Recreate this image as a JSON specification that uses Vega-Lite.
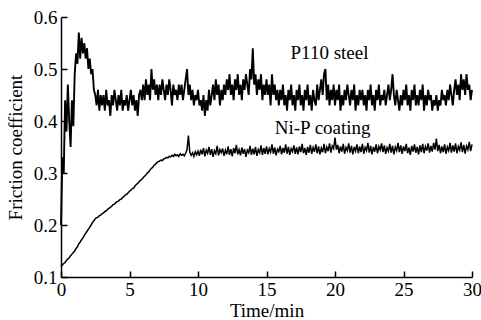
{
"$schema": "https://vega.github.io/schema/vega-lite/v6.json",
"width": 411, "height": 260,
"autosize": "none",
"padding": {"left": 61, "top": 17, "right": 9, "bottom": 43},
"background": "white",
"config": {"view": {"stroke": null}, "font": "Liberation Serif",
 "axis": {"grid": false, "domainColor": "black", "domainWidth": 1.5, "tickColor": "black", "tickWidth": 1.5, "tickSize": -6, "labelFont": "Liberation Serif", "labelFontSize": 19, "labelColor": "black", "titleFont": "Liberation Serif", "titleFontSize": 19, "titleFontWeight": "normal", "titleColor": "black"}},
"datasets": {
"lab": [{"t": 19.6, "f": 0.531, "label": "P110 steel"}, {"t": 19.1, "f": 0.387, "label": "Ni-P coating"}],
"s": [
{"t":0,"a":0.20,"b":0.120},{"t":0.1,"a":0.33,"b":0.123},{"t":0.2,"a":0.30,"b":0.126},{"t":0.3,"a":0.44,"b":0.128},{"t":0.4,"a":0.38,"b":0.132},{"t":0.5,"a":0.47,"b":0.135},{"t":0.6,"a":0.40,"b":0.137},{"t":0.7,"a":0.35,"b":0.141},{"t":0.8,"a":0.44,"b":0.144},{"t":0.9,"a":0.39,"b":0.147},
{"t":1.0,"a":0.49,"b":0.150},{"t":1.1,"a":0.53,"b":0.155},{"t":1.2,"a":0.51,"b":0.158},{"t":1.3,"a":0.57,"b":0.164},{"t":1.4,"a":0.52,"b":0.167},{"t":1.5,"a":0.56,"b":0.172},{"t":1.6,"a":0.53,"b":0.175},{"t":1.7,"a":0.55,"b":0.180},{"t":1.8,"a":0.52,"b":0.184},{"t":1.9,"a":0.54,"b":0.188},
{"t":2.0,"a":0.50,"b":0.192},{"t":2.1,"a":0.52,"b":0.196},{"t":2.2,"a":0.49,"b":0.200},{"t":2.3,"a":0.50,"b":0.205},{"t":2.4,"a":0.46,"b":0.208},{"t":2.5,"a":0.45,"b":0.212},{"t":2.6,"a":0.43,"b":0.214},{"t":2.7,"a":0.46,"b":0.215},{"t":2.8,"a":0.42,"b":0.218},{"t":2.9,"a":0.45,"b":0.219},
{"t":3.0,"a":0.43,"b":0.222},{"t":3.1,"a":0.45,"b":0.223},{"t":3.2,"a":0.42,"b":0.226},{"t":3.3,"a":0.46,"b":0.227},{"t":3.4,"a":0.43,"b":0.230},{"t":3.5,"a":0.44,"b":0.232},{"t":3.6,"a":0.41,"b":0.234},{"t":3.7,"a":0.45,"b":0.236},{"t":3.8,"a":0.43,"b":0.239},{"t":3.9,"a":0.46,"b":0.240},
{"t":4.0,"a":0.44,"b":0.243},{"t":4.1,"a":0.42,"b":0.245},{"t":4.2,"a":0.45,"b":0.246},{"t":4.3,"a":0.43,"b":0.249},{"t":4.4,"a":0.46,"b":0.250},{"t":4.5,"a":0.42,"b":0.253},{"t":4.6,"a":0.44,"b":0.255},{"t":4.7,"a":0.43,"b":0.258},{"t":4.8,"a":0.45,"b":0.259},{"t":4.9,"a":0.42,"b":0.262},
{"t":5.0,"a":0.44,"b":0.265},{"t":5.1,"a":0.46,"b":0.267},{"t":5.2,"a":0.43,"b":0.270},{"t":5.3,"a":0.45,"b":0.271},{"t":5.4,"a":0.42,"b":0.275},{"t":5.5,"a":0.44,"b":0.278},{"t":5.6,"a":0.41,"b":0.280},{"t":5.7,"a":0.45,"b":0.283},{"t":5.8,"a":0.46,"b":0.286},{"t":5.9,"a":0.44,"b":0.288},
{"t":6.0,"a":0.47,"b":0.291},{"t":6.1,"a":0.44,"b":0.294},{"t":6.2,"a":0.48,"b":0.296},{"t":6.3,"a":0.45,"b":0.300},{"t":6.4,"a":0.47,"b":0.302},{"t":6.5,"a":0.44,"b":0.306},{"t":6.6,"a":0.50,"b":0.309},{"t":6.7,"a":0.46,"b":0.311},{"t":6.8,"a":0.48,"b":0.315},{"t":6.9,"a":0.45,"b":0.317},
{"t":7.0,"a":0.47,"b":0.320},{"t":7.1,"a":0.44,"b":0.322},{"t":7.2,"a":0.47,"b":0.323},{"t":7.3,"a":0.45,"b":0.325},{"t":7.4,"a":0.48,"b":0.324},{"t":7.5,"a":0.46,"b":0.327},{"t":7.6,"a":0.44,"b":0.328},{"t":7.7,"a":0.47,"b":0.330},{"t":7.8,"a":0.45,"b":0.329},{"t":7.9,"a":0.48,"b":0.332},
{"t":8.0,"a":0.46,"b":0.331},{"t":8.1,"a":0.43,"b":0.334},{"t":8.2,"a":0.47,"b":0.332},{"t":8.3,"a":0.45,"b":0.336},{"t":8.4,"a":0.46,"b":0.333},{"t":8.5,"a":0.44,"b":0.335},{"t":8.6,"a":0.47,"b":0.332},{"t":8.7,"a":0.45,"b":0.337},{"t":8.8,"a":0.47,"b":0.334},{"t":8.9,"a":0.44,"b":0.336},
{"t":9.0,"a":0.46,"b":0.333},{"t":9.1,"a":0.48,"b":0.338},{"t":9.2,"a":0.50,"b":0.345},{"t":9.3,"a":0.45,"b":0.372},{"t":9.4,"a":0.47,"b":0.340},{"t":9.5,"a":0.44,"b":0.334},{"t":9.6,"a":0.46,"b":0.339},{"t":9.7,"a":0.43,"b":0.332},{"t":9.8,"a":0.45,"b":0.341},{"t":9.9,"a":0.44,"b":0.335},
{"t":10.0,"a":0.46,"b":0.342},{"t":10.1,"a":0.43,"b":0.333},{"t":10.2,"a":0.44,"b":0.345},{"t":10.3,"a":0.42,"b":0.336},{"t":10.4,"a":0.45,"b":0.348},{"t":10.5,"a":0.41,"b":0.332},{"t":10.6,"a":0.44,"b":0.344},{"t":10.7,"a":0.42,"b":0.338},{"t":10.8,"a":0.46,"b":0.350},{"t":10.9,"a":0.43,"b":0.335},
{"t":11.0,"a":0.45,"b":0.346},{"t":11.1,"a":0.47,"b":0.331},{"t":11.2,"a":0.44,"b":0.343},{"t":11.3,"a":0.48,"b":0.337},{"t":11.4,"a":0.45,"b":0.352},{"t":11.5,"a":0.47,"b":0.334},{"t":11.6,"a":0.43,"b":0.345},{"t":11.7,"a":0.46,"b":0.339},{"t":11.8,"a":0.44,"b":0.347},{"t":11.9,"a":0.47,"b":0.333},
{"t":12.0,"a":0.45,"b":0.344},{"t":12.1,"a":0.48,"b":0.336},{"t":12.2,"a":0.46,"b":0.351},{"t":12.3,"a":0.49,"b":0.335},{"t":12.4,"a":0.45,"b":0.346},{"t":12.5,"a":0.47,"b":0.332},{"t":12.6,"a":0.44,"b":0.348},{"t":12.7,"a":0.48,"b":0.338},{"t":12.8,"a":0.46,"b":0.354},{"t":12.9,"a":0.49,"b":0.336},
{"t":13.0,"a":0.45,"b":0.345},{"t":13.1,"a":0.47,"b":0.334},{"t":13.2,"a":0.44,"b":0.349},{"t":13.3,"a":0.48,"b":0.337},{"t":13.4,"a":0.46,"b":0.346},{"t":13.5,"a":0.49,"b":0.331},{"t":13.6,"a":0.47,"b":0.344},{"t":13.7,"a":0.45,"b":0.339},{"t":13.8,"a":0.50,"b":0.352},{"t":13.9,"a":0.48,"b":0.335},
{"t":14.0,"a":0.54,"b":0.347},{"t":14.1,"a":0.47,"b":0.336},{"t":14.2,"a":0.49,"b":0.350},{"t":14.3,"a":0.45,"b":0.333},{"t":14.4,"a":0.48,"b":0.345},{"t":14.5,"a":0.46,"b":0.339},{"t":14.6,"a":0.49,"b":0.353},{"t":14.7,"a":0.44,"b":0.335},{"t":14.8,"a":0.47,"b":0.348},{"t":14.9,"a":0.45,"b":0.337},
{"t":15.0,"a":0.48,"b":0.351},{"t":15.1,"a":0.45,"b":0.336},{"t":15.2,"a":0.47,"b":0.347},{"t":15.3,"a":0.43,"b":0.340},{"t":15.4,"a":0.49,"b":0.355},{"t":15.5,"a":0.45,"b":0.337},{"t":15.6,"a":0.47,"b":0.349},{"t":15.7,"a":0.44,"b":0.334},{"t":15.8,"a":0.46,"b":0.346},{"t":15.9,"a":0.43,"b":0.341},
{"t":16.0,"a":0.46,"b":0.352},{"t":16.1,"a":0.44,"b":0.336},{"t":16.2,"a":0.47,"b":0.348},{"t":16.3,"a":0.43,"b":0.339},{"t":16.4,"a":0.45,"b":0.355},{"t":16.5,"a":0.42,"b":0.337},{"t":16.6,"a":0.46,"b":0.350},{"t":16.7,"a":0.44,"b":0.335},{"t":16.8,"a":0.47,"b":0.347},{"t":16.9,"a":0.43,"b":0.341},
{"t":17.0,"a":0.45,"b":0.353},{"t":17.1,"a":0.42,"b":0.337},{"t":17.2,"a":0.46,"b":0.349},{"t":17.3,"a":0.44,"b":0.336},{"t":17.4,"a":0.47,"b":0.351},{"t":17.5,"a":0.43,"b":0.340},{"t":17.6,"a":0.45,"b":0.356},{"t":17.7,"a":0.42,"b":0.338},{"t":17.8,"a":0.46,"b":0.348},{"t":17.9,"a":0.44,"b":0.335},
{"t":18.0,"a":0.47,"b":0.350},{"t":18.1,"a":0.43,"b":0.339},{"t":18.2,"a":0.45,"b":0.354},{"t":18.3,"a":0.42,"b":0.337},{"t":18.4,"a":0.46,"b":0.349},{"t":18.5,"a":0.44,"b":0.341},{"t":18.6,"a":0.43,"b":0.355},{"t":18.7,"a":0.47,"b":0.338},{"t":18.8,"a":0.44,"b":0.351},{"t":18.9,"a":0.46,"b":0.336},
{"t":19.0,"a":0.48,"b":0.348},{"t":19.1,"a":0.45,"b":0.340},{"t":19.2,"a":0.49,"b":0.356},{"t":19.3,"a":0.50,"b":0.338},{"t":19.4,"a":0.44,"b":0.350},{"t":19.5,"a":0.47,"b":0.342},{"t":19.6,"a":0.43,"b":0.357},{"t":19.7,"a":0.46,"b":0.339},{"t":19.8,"a":0.44,"b":0.352},{"t":19.9,"a":0.47,"b":0.347},
{"t":20.0,"a":0.43,"b":0.368},{"t":20.1,"a":0.46,"b":0.345},{"t":20.2,"a":0.44,"b":0.354},{"t":20.3,"a":0.47,"b":0.338},{"t":20.4,"a":0.42,"b":0.351},{"t":20.5,"a":0.45,"b":0.341},{"t":20.6,"a":0.43,"b":0.356},{"t":20.7,"a":0.46,"b":0.337},{"t":20.8,"a":0.44,"b":0.349},{"t":20.9,"a":0.47,"b":0.343},
{"t":21.0,"a":0.45,"b":0.357},{"t":21.1,"a":0.43,"b":0.339},{"t":21.2,"a":0.46,"b":0.352},{"t":21.3,"a":0.44,"b":0.336},{"t":21.4,"a":0.47,"b":0.350},{"t":21.5,"a":0.42,"b":0.342},{"t":21.6,"a":0.45,"b":0.355},{"t":21.7,"a":0.43,"b":0.338},{"t":21.8,"a":0.46,"b":0.351},{"t":21.9,"a":0.44,"b":0.340},
{"t":22.0,"a":0.46,"b":0.356},{"t":22.1,"a":0.43,"b":0.337},{"t":22.2,"a":0.45,"b":0.349},{"t":22.3,"a":0.42,"b":0.343},{"t":22.4,"a":0.46,"b":0.358},{"t":22.5,"a":0.44,"b":0.339},{"t":22.6,"a":0.47,"b":0.352},{"t":22.7,"a":0.43,"b":0.336},{"t":22.8,"a":0.45,"b":0.350},{"t":22.9,"a":0.42,"b":0.341},
{"t":23.0,"a":0.46,"b":0.355},{"t":23.1,"a":0.44,"b":0.338},{"t":23.2,"a":0.47,"b":0.351},{"t":23.3,"a":0.43,"b":0.344},{"t":23.4,"a":0.45,"b":0.357},{"t":23.5,"a":0.44,"b":0.340},{"t":23.6,"a":0.46,"b":0.353},{"t":23.7,"a":0.43,"b":0.337},{"t":23.8,"a":0.45,"b":0.349},{"t":23.9,"a":0.47,"b":0.342},
{"t":24.0,"a":0.44,"b":0.356},{"t":24.1,"a":0.46,"b":0.339},{"t":24.2,"a":0.49,"b":0.352},{"t":24.3,"a":0.45,"b":0.336},{"t":24.4,"a":0.43,"b":0.350},{"t":24.5,"a":0.46,"b":0.343},{"t":24.6,"a":0.44,"b":0.358},{"t":24.7,"a":0.42,"b":0.340},{"t":24.8,"a":0.45,"b":0.353},{"t":24.9,"a":0.43,"b":0.337},
{"t":25.0,"a":0.46,"b":0.351},{"t":25.1,"a":0.44,"b":0.342},{"t":25.2,"a":0.47,"b":0.356},{"t":25.3,"a":0.43,"b":0.338},{"t":25.4,"a":0.45,"b":0.349},{"t":25.5,"a":0.42,"b":0.335},{"t":25.6,"a":0.46,"b":0.352},{"t":25.7,"a":0.44,"b":0.341},{"t":25.8,"a":0.47,"b":0.355},{"t":25.9,"a":0.43,"b":0.339},
{"t":26.0,"a":0.45,"b":0.350},{"t":26.1,"a":0.43,"b":0.336},{"t":26.2,"a":0.46,"b":0.353},{"t":26.3,"a":0.44,"b":0.340},{"t":26.4,"a":0.47,"b":0.356},{"t":26.5,"a":0.42,"b":0.338},{"t":26.6,"a":0.45,"b":0.351},{"t":26.7,"a":0.43,"b":0.343},{"t":26.8,"a":0.46,"b":0.357},{"t":26.9,"a":0.44,"b":0.339},
{"t":27.0,"a":0.45,"b":0.352},{"t":27.1,"a":0.42,"b":0.341},{"t":27.2,"a":0.44,"b":0.358},{"t":27.3,"a":0.43,"b":0.345},{"t":27.4,"a":0.45,"b":0.366},{"t":27.5,"a":0.42,"b":0.342},{"t":27.6,"a":0.44,"b":0.354},{"t":27.7,"a":0.43,"b":0.338},{"t":27.8,"a":0.46,"b":0.351},{"t":27.9,"a":0.44,"b":0.340},
{"t":28.0,"a":0.45,"b":0.355},{"t":28.1,"a":0.43,"b":0.337},{"t":28.2,"a":0.46,"b":0.350},{"t":28.3,"a":0.44,"b":0.343},{"t":28.4,"a":0.47,"b":0.358},{"t":28.5,"a":0.45,"b":0.339},{"t":28.6,"a":0.43,"b":0.353},{"t":28.7,"a":0.46,"b":0.341},{"t":28.8,"a":0.48,"b":0.357},{"t":28.9,"a":0.45,"b":0.338},
{"t":29.0,"a":0.47,"b":0.351},{"t":29.1,"a":0.44,"b":0.344},{"t":29.2,"a":0.49,"b":0.359},{"t":29.3,"a":0.46,"b":0.340},{"t":29.4,"a":0.48,"b":0.354},{"t":29.5,"a":0.45,"b":0.337},{"t":29.6,"a":0.49,"b":0.352},{"t":29.7,"a":0.46,"b":0.345},{"t":29.8,"a":0.47,"b":0.360},{"t":29.9,"a":0.44,"b":0.342},
{"t":30.0,"a":0.46,"b":0.355}
]},
"layer": [
{"data": {"name": "s"}, "mark": {"type": "line", "color": "black", "strokeWidth": 1.9},
 "encoding": {
  "x": {"field": "t", "type": "quantitative", "scale": {"domain": [0, 30], "nice": false}, "axis": {"title": "Time/min", "values": [0,5,10,15,20,25,30], "labelPadding": 9, "titlePadding": 2, "labelFlush": false}},
  "y": {"field": "a", "type": "quantitative", "scale": {"domain": [0.1, 0.6], "nice": false, "zero": false}, "axis": {"title": "Friction coefficient", "values": [0.1,0.2,0.3,0.4,0.5,0.6], "format": ".1f", "labelPadding": 10, "titlePadding": 8, "labelFlush": false}}}},
{"data": {"name": "s"}, "mark": {"type": "line", "color": "black", "strokeWidth": 1.5},
 "encoding": {
  "x": {"field": "t", "type": "quantitative"},
  "y": {"field": "b", "type": "quantitative"}}},
{"data": {"name": "lab"}, "mark": {"type": "text", "font": "Liberation Serif", "fontSize": 19, "color": "black", "align": "center", "baseline": "middle"},
 "encoding": {
  "x": {"field": "t", "type": "quantitative"},
  "y": {"field": "f", "type": "quantitative"},
  "text": {"field": "label"}}}
]
}
